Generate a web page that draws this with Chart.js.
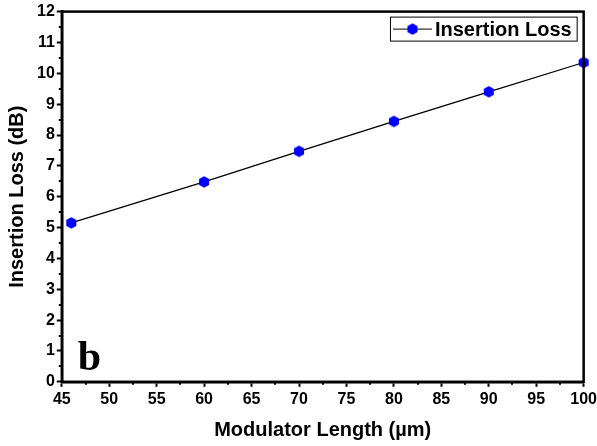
<!DOCTYPE html>
<html>
<head>
<meta charset="utf-8">
<script src="https://cdn.jsdelivr.net/npm/chart.js@4.4.0/dist/chart.umd.min.js"></script>
<style>
  html, body { margin: 0; padding: 0; background: #fff; overflow: hidden; }
  #wrap { width: 597px; height: 446px; overflow: hidden; }
</style>
</head>
<body>
<div id="wrap"><canvas id="chart" width="600" height="446"></canvas></div>
<script>
// data
const lengths = [46, 60, 70, 80, 90, 100];
const insertionLoss = [5.15, 6.48, 7.47, 8.44, 9.4, 10.35];
const seriesName = 'Insertion Loss';
const xTitle = 'Modulator Length (\u00b5m)';
const yTitle = 'Insertion Loss (dB)';
const panelTag = 'b';

// hexagon marker
function hexMarker(r, color) {
    const c = document.createElement('canvas');
    const s = Math.ceil(r * 2 + 2);
    c.width = s; c.height = s;
    const g = c.getContext('2d');
    g.fillStyle = color;
    g.beginPath();
    for (let i = 0; i < 6; i++) {
        const a = Math.PI / 6 + i * Math.PI / 3;
        const px = s / 2 + r * Math.cos(a), py = s / 2 + r * Math.sin(a);
        if (i === 0) g.moveTo(px, py); else g.lineTo(px, py);
    }
    g.closePath();
    g.fill();
    return c;
}
const marker = hexMarker(5.8, '#0000ff');

// frame, minor ticks, legend and panel letter
const extras = {
    id: 'extras',
    afterDraw(chart) {
        const ctx = chart.ctx;
        const a = chart.chartArea;
        const xs = chart.scales.x, ys = chart.scales.y;
        ctx.save();
        ctx.strokeStyle = '#000';
        ctx.lineWidth = 2.5;
        ctx.strokeRect(a.left, a.top, a.right - a.left, a.bottom - a.top);

        // minor ticks
        ctx.lineWidth = 2;
        ctx.beginPath();
        for (let v = 47.5; v < 100; v += 5) {
            const px = Math.round(xs.getPixelForValue(v));
            ctx.moveTo(px, a.bottom); ctx.lineTo(px, a.bottom + 3);
        }
        for (let v = 0.5; v < 12; v += 1) {
            const py = Math.round(ys.getPixelForValue(v));
            ctx.moveTo(a.left, py); ctx.lineTo(a.left - 3, py);
        }
        ctx.stroke();

        // legend
        const ds = chart.data.datasets[0];
        ctx.font = 'bold 20px "Liberation Sans", Arial, sans-serif';
        const tw = ctx.measureText(ds.label).width;
        const bx2 = a.right - 7, by = a.top + 5, bh = 24;
        const bw = tw + 50;
        const bx = bx2 - bw;
        ctx.lineWidth = 1;
        ctx.strokeStyle = '#000';
        ctx.fillStyle = '#fff';
        ctx.fillRect(bx, by, bw, bh);
        ctx.strokeRect(bx + 0.5, by + 0.5, bw, bh);
        const ly = by + bh / 2 + 0.5;
        ctx.beginPath();
        ctx.moveTo(bx + 3, ly); ctx.lineTo(bx + 42, ly);
        ctx.stroke();
        ctx.drawImage(marker, bx + 22.5 - marker.width / 2, ly - marker.height / 2);
        ctx.fillStyle = '#000';
        ctx.textBaseline = 'middle';
        ctx.fillText(ds.label, bx + 45, ly + 1);

        // panel letter
        ctx.font = 'bold 42px "Liberation Serif", "Times New Roman", serif';
        ctx.textBaseline = 'alphabetic';
        ctx.fillText(panelTag, a.left + 16, a.bottom - 12);
        ctx.restore();
    }
};

const tickFont = { family: '"Liberation Sans", Arial, sans-serif', size: 16, weight: 'bold' };
const titleFont = { family: '"Liberation Sans", Arial, sans-serif', size: 20, weight: 'bold' };

new Chart(document.getElementById('chart'), {
    type: 'line',
    data: {
        datasets: [{
            label: seriesName,
            data: lengths.map((x, i) => ({ x: x, y: insertionLoss[i] })),
            borderColor: '#000',
            borderWidth: 1.3,
            pointStyle: marker,
            pointRadius: 6,
            pointHoverRadius: 6,
            clip: false,
            tension: 0
        }]
    },
    options: {
        responsive: false,
        animation: false,
        devicePixelRatio: 1,
        layout: { padding: { top: 10, right: 0, left: 5, bottom: 4 } },
        plugins: {
            legend: { display: false },
            tooltip: { enabled: false }
        },
        scales: {
            x: {
                type: 'linear',
                min: 45,
                max: 100,
                ticks: {
                    stepSize: 5,
                    color: '#000',
                    font: tickFont,
                    padding: 3,
                    maxRotation: 0,
                    autoSkip: false
                },
                grid: {
                    drawOnChartArea: false,
                    drawTicks: true,
                    tickLength: 5,
                    tickWidth: 2,
                    tickColor: '#000'
                },
                border: { display: true, color: '#000', width: 2.5 },
                title: {
                    display: true,
                    text: xTitle,
                    color: '#000',
                    font: titleFont,
                    padding: { top: 6, bottom: 0 }
                }
            },
            y: {
                type: 'linear',
                min: 0,
                max: 12,
                ticks: {
                    stepSize: 1,
                    color: '#000',
                    font: tickFont,
                    padding: 2,
                    autoSkip: false
                },
                grid: {
                    drawOnChartArea: false,
                    drawTicks: true,
                    tickLength: 5,
                    tickWidth: 2,
                    tickColor: '#000'
                },
                border: { display: true, color: '#000', width: 2.5 },
                title: {
                    display: true,
                    text: yTitle,
                    color: '#000',
                    font: titleFont,
                    padding: { top: 0, bottom: 6 }
                }
            }
        }
    },
    plugins: [extras]
});
</script>
</body>
</html>
